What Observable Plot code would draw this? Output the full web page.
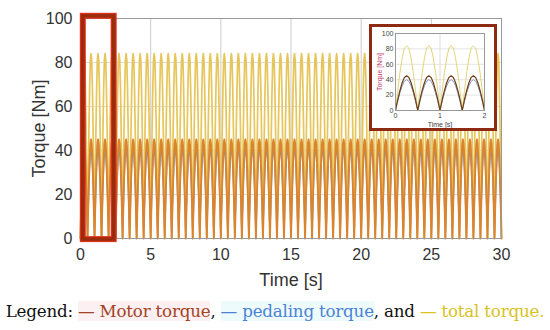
<!DOCTYPE html>
<html>
<head>
<meta charset="utf-8">
<script src="https://cdn.jsdelivr.net/npm/d3@7"></script>
<script src="https://cdn.jsdelivr.net/npm/@observablehq/plot@0.6"></script>
<style>
  html, body { margin: 0; padding: 0; background: #fff; }
  #wrap { position: relative; width: 550px; height: 330px; overflow: hidden; }
  #main { position: absolute; left: 0; top: 0; }
  #inset { position: absolute; left: 369px; top: 24px; width: 122px; height: 101px;
           border: 3px solid #8e2a12; background: #fff; }
  #legend { position: absolute; left: 0; top: 301px; width: 550px; text-align: center;
            font-family: "DejaVu Serif", "Liberation Serif", serif; font-size: 16.7px; color: #111; white-space: nowrap; letter-spacing: -0.2px; }
  #legend .m { color: #a3421f; background: #fdf0f2; }
  #legend .p { color: #4b82d4; background: #eefbfd; }
  #legend .t { color: #d9c21c; }
  #main g[aria-label="y-axis label"] text, #main g[aria-label="x-axis label"] text { font-size: 18px; fill: #333; }
  #inset g[aria-label="y-axis label"] text { fill: #c0406a; }
</style>
</head>
<body>
<div id="wrap">
  <div id="main"></div>
  <div id="inset"></div>
  <div id="legend">Legend: <span class="m">— Motor torque</span>, <span class="p">— pedaling torque</span>, and <span class="t">— total torque.</span></div>
</div>
<script>
const cyclePhase = [0, 0.05, 0.10, 0.15, 0.20, 0.25, 0.30, 0.35, 0.40, 0.45, 0.50];
const motorCycle = [0, 14, 26, 36, 43, 45, 43, 36, 26, 14, 0];
const pedalCycle = [0, 12, 23, 32, 38, 40, 38, 32, 23, 12, 0];
const totalCycle = [0, 26, 49, 68, 81, 84, 81, 68, 49, 26, 0];
const cycleLength = 0.5;
const mainDuration = 30;
const insetDuration = 2;
const xTicksMain = [0, 5, 10, 15, 20, 25, 30];
const yTicks = [0, 20, 40, 60, 80, 100];
const xTicksInset = [0, 1, 2];
const zoomWindow = {x1: 0.2, x2: 2.4, y1: -0.5, y2: 101};

function tile(cycle, duration) {
  const out = [];
  const n = Math.round(duration / cycleLength);
  for (let k = 0; k < n; k++) {
    cyclePhase.forEach((p, i) => {
      if (k > 0 && i === 0) return;
      out.push({t: k * cycleLength + p, v: cycle[i]});
    });
  }
  return out;
}

const colors = {motor: "#da8430", pedal: "#6f8fcf", total: "#e6c65a"};

const main = Plot.plot({
  width: 550, height: 296,
  marginLeft: 80, marginRight: 49, marginTop: 18, marginBottom: 58,
  style: {fontSize: "16px", fontFamily: "'Liberation Sans', Arial, sans-serif", color: "#333", background: "#fff"},
  x: {domain: [0, 30], ticks: xTicksMain, tickSize: 0, tickPadding: 10, label: "Time [s]", labelAnchor: "center", labelOffset: 47, labelArrow: "none"},
  y: {domain: [0, 100], ticks: yTicks, tickSize: 0, tickPadding: 8, label: "Torque [Nm]", labelAnchor: "center", labelOffset: 48, labelArrow: "none"},
  marks: [
    Plot.gridX(xTicksMain, {stroke: "#ccc", strokeOpacity: 1}),
    Plot.gridY(yTicks, {stroke: "#ddd", strokeOpacity: 1}),
    Plot.line(tile(pedalCycle, mainDuration), {x: "t", y: "v", stroke: colors.pedal, strokeWidth: 1.2}),
    Plot.line(tile(totalCycle, mainDuration), {x: "t", y: "v", stroke: colors.total, strokeWidth: 1.7}),
    Plot.line(tile(motorCycle, mainDuration), {x: "t", y: "v", stroke: colors.motor, strokeWidth: 1.9}),
    Plot.frame({stroke: "#999"}),
    Plot.rect([zoomWindow], {x1: "x1", x2: "x2", y1: "y1", y2: "y2", stroke: "#e0301a", strokeWidth: 6, fill: "none"}),
    Plot.rect([zoomWindow], {x1: "x1", x2: "x2", y1: "y1", y2: "y2", stroke: "#9a2c0e", strokeWidth: 3.5, fill: "none"})
  ]
});
document.getElementById("main").appendChild(main);

const inset = Plot.plot({
  width: 122, height: 101,
  marginLeft: 23, marginRight: 10, marginTop: 6, marginBottom: 18,
  style: {fontSize: "7px", fontFamily: "'Liberation Sans', Arial, sans-serif", color: "#444", background: "#fff"},
  x: {domain: [0, 2], ticks: xTicksInset, tickFormat: "d", tickSize: 0, tickPadding: 3, label: "Time [s]", labelAnchor: "center", labelOffset: 16, labelArrow: "none"},
  y: {domain: [0, 100], ticks: yTicks, tickFormat: "d", tickSize: 0, tickPadding: 2, label: "Torque [Nm]", labelAnchor: "center", labelOffset: 18, labelArrow: "none"},
  marks: [
    Plot.gridX(xTicksInset, {stroke: "#ddd", strokeOpacity: 1}),
    Plot.gridY(yTicks, {stroke: "#e4e4e4", strokeOpacity: 1}),
    Plot.line(tile(pedalCycle, insetDuration), {x: "t", y: "v", stroke: "#8a97c4", strokeWidth: 1}),
    Plot.line(tile(totalCycle, insetDuration), {x: "t", y: "v", stroke: "#e2d67a", strokeWidth: 1}),
    Plot.line(tile(motorCycle, insetDuration), {x: "t", y: "v", stroke: "#6e3c14", strokeWidth: 1.2}),
    Plot.frame({stroke: "#999"})
  ]
});
document.getElementById("inset").appendChild(inset);
</script>
</body>
</html>
